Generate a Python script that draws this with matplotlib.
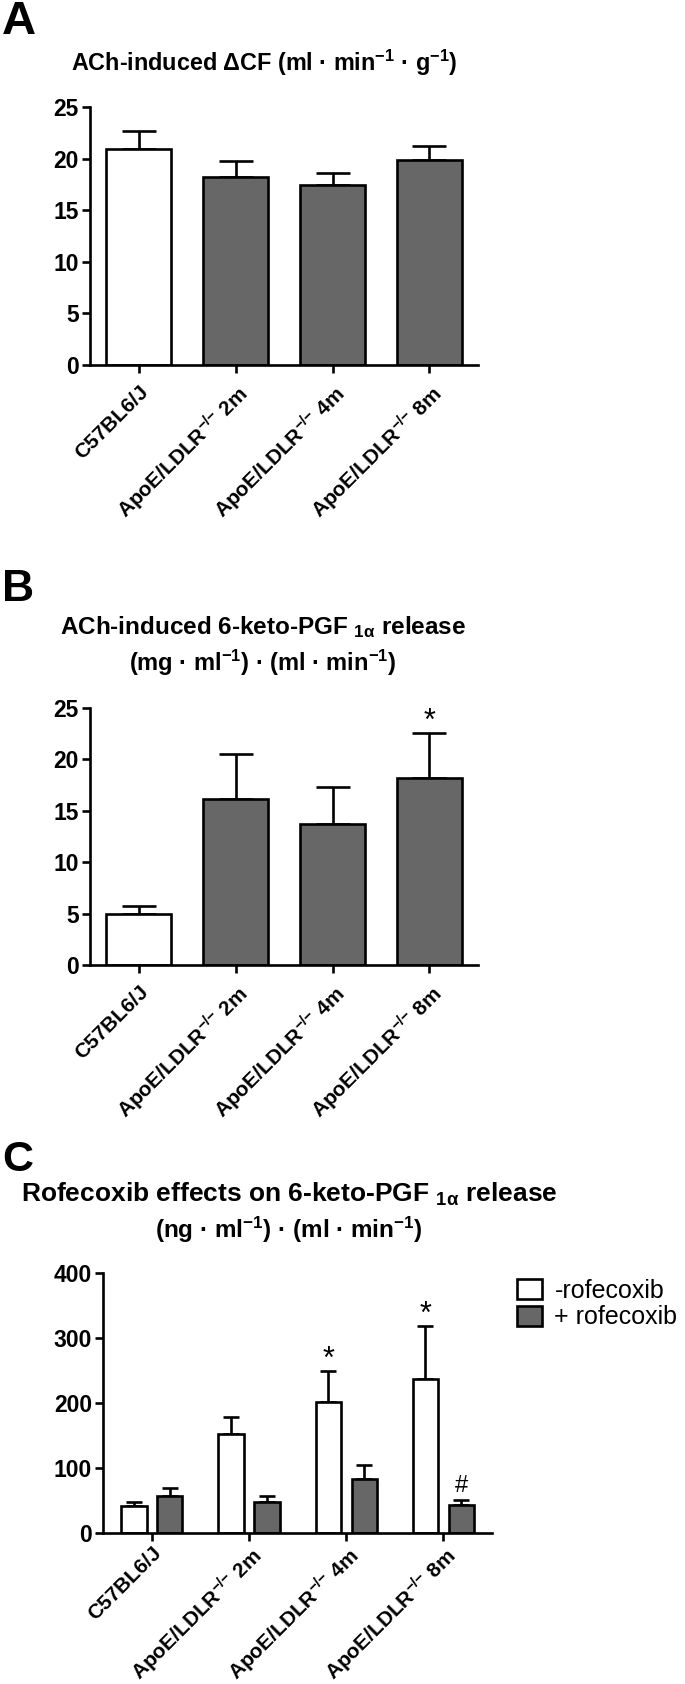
import matplotlib
matplotlib.use('Agg')
import matplotlib.pyplot as plt
import numpy as np

plt.rcParams['font.family'] = ['Liberation Sans', 'DejaVu Sans']
plt.rcParams['mathtext.default'] = 'regular'

# groups on the x axis
groups = ['C57BL6/J', r'ApoE/LDLR$^{{-}/{-}}$ 2m', r'ApoE/LDLR$^{{-}/{-}}$ 4m',
          r'ApoE/LDLR$^{{-}/{-}}$ 8m']

# panel A: ACh-induced delta CF
cf_mean = [20.9, 18.2, 17.4, 19.9]
cf_sem = [1.8, 1.6, 1.2, 1.3]

# panel B: ACh-induced 6-keto-PGF1a release
pgf_mean = [5.0, 16.15, 13.7, 18.15]
pgf_sem = [0.75, 4.35, 3.6, 4.45]

# panel C: rofecoxib effects
rof_minus = [40.8, 151.4, 200.7, 236.6]
rof_minus_sem = [6.7, 27, 48, 82]
rof_plus = [56.3, 46.5, 82, 42.4]
rof_plus_sem = [12.7, 10, 22, 7.7]

gray = '#676767'
lw = 1.9
H = 1684

fig = plt.figure(figsize=(6.85, 16.84), dpi=100)


def style_axis(ax, ymax, step, xpad=6):
    ax.set_xlim(-0.5, 3.5)
    ax.set_ylim(0, ymax)
    ax.set_yticks(np.arange(0, ymax + 1, step))
    for s in ['top', 'right']:
        ax.spines[s].set_visible(False)
    for s in ['left', 'bottom']:
        ax.spines[s].set_linewidth(lw)
    ax.tick_params(direction='out', length=6, width=lw, labelsize=16.5, pad=2)
    ax.tick_params(axis='x', pad=xpad)
    for t in ax.get_yticklabels():
        t.set_fontweight('bold')
    ax.set_xticks(np.arange(4))
    ax.set_xticklabels(groups, rotation=45, ha='right', rotation_mode='anchor',
                       fontweight='bold', fontsize=15)


def single_bars(ax, means, sems):
    x = np.arange(4)
    colors = ['white', gray, gray, gray]
    ax.errorbar(x, means, yerr=[np.zeros(4), sems], fmt='none', ecolor='black',
                elinewidth=lw, capsize=12.5, capthick=lw, zorder=1)
    ax.bar(x, means, 0.67, color=colors, edgecolor='black', linewidth=lw, zorder=2)


# ---- A
axA = fig.add_axes([90 / 685, 1 - 365 / H, 388 / 685, 258 / H])
single_bars(axA, cf_mean, cf_sem)
style_axis(axA, 25, 5)
fig.text(0.003, 1 - 0 / H, 'A', fontsize=34, fontweight='bold', va='top')
fig.text(264.5 / 685, 1 - 63 / H, r'ACh-induced ΔCF (ml · min$^{-1}$ · g$^{-1}$)',
         ha='center', va='center', fontsize=16.8, fontweight='bold')

# ---- B
axB = fig.add_axes([90 / 685, 1 - 965 / H, 388 / 685, 257 / H])
single_bars(axB, pgf_mean, pgf_sem)
style_axis(axB, 25, 5)
axB.annotate('*', (3, pgf_mean[3] + pgf_sem[3]), xytext=(0, 2), textcoords='offset points',
             ha='center', va='baseline', fontsize=22)
fig.text(0.003, 1 - 569 / H, 'B', fontsize=32, fontweight='bold', va='top')
fig.text(263 / 685, 1 - 627 / H, r'ACh-induced 6-keto-PGF $_{1α}$ release',
         ha='center', va='center', fontsize=17.5, fontweight='bold')
fig.text(263 / 685, 1 - 663 / H, r'(mg · ml$^{-1}$) · (ml · min$^{-1}$)',
         ha='center', va='center', fontsize=17, fontweight='bold')

# ---- C
axC = fig.add_axes([103.3 / 685, 1 - 1532.5 / H, 388.7 / 685, 259.5 / H])
x = np.arange(4)
off, w = 0.185, 0.26
axC.errorbar(x - off, rof_minus, yerr=[np.zeros(4), rof_minus_sem], fmt='none', ecolor='black',
             elinewidth=lw, capsize=5.8, capthick=lw, zorder=1)
axC.errorbar(x + off, rof_plus, yerr=[np.zeros(4), rof_plus_sem], fmt='none', ecolor='black',
             elinewidth=lw, capsize=5.8, capthick=lw, zorder=1)
axC.bar(x - off, rof_minus, w, color='white', edgecolor='black', linewidth=lw, zorder=2,
        label='-rofecoxib')
axC.bar(x + off, rof_plus, w, color=gray, edgecolor='black', linewidth=lw, zorder=2,
        label='+ rofecoxib')
style_axis(axC, 400, 100, xpad=2)
for i in [2, 3]:
    axC.annotate('*', (i - off, rof_minus[i] + rof_minus_sem[i]), xytext=(0, 2),
                 textcoords='offset points', ha='center', va='baseline', fontsize=22)
axC.annotate('#', (3 + off, rof_plus[3] + rof_plus_sem[3]), xytext=(0, 6),
             textcoords='offset points', ha='center', va='baseline', fontsize=17)
axC.legend(loc='upper left', bbox_to_anchor=(517 / 685, 1 - 1279 / H),
           bbox_transform=fig.transFigure, frameon=False, fontsize=18,
           handlelength=1.0, handleheight=0.85, handletextpad=0.5,
           labelspacing=0.1, borderpad=0, borderaxespad=0)
fig.text(0.003, 1 - 1140 / H, 'C', fontsize=31, fontweight='bold', va='top')
fig.text(289 / 685, 1 - 1194 / H, r'Rofecoxib effects on 6-keto-PGF $_{1α}$ release',
         ha='center', va='center', fontsize=19, fontweight='bold')
fig.text(289 / 685, 1 - 1230 / H, r'(ng · ml$^{-1}$) · (ml · min$^{-1}$)',
         ha='center', va='center', fontsize=17.5, fontweight='bold')

fig.savefig('out.png', dpi=100)
